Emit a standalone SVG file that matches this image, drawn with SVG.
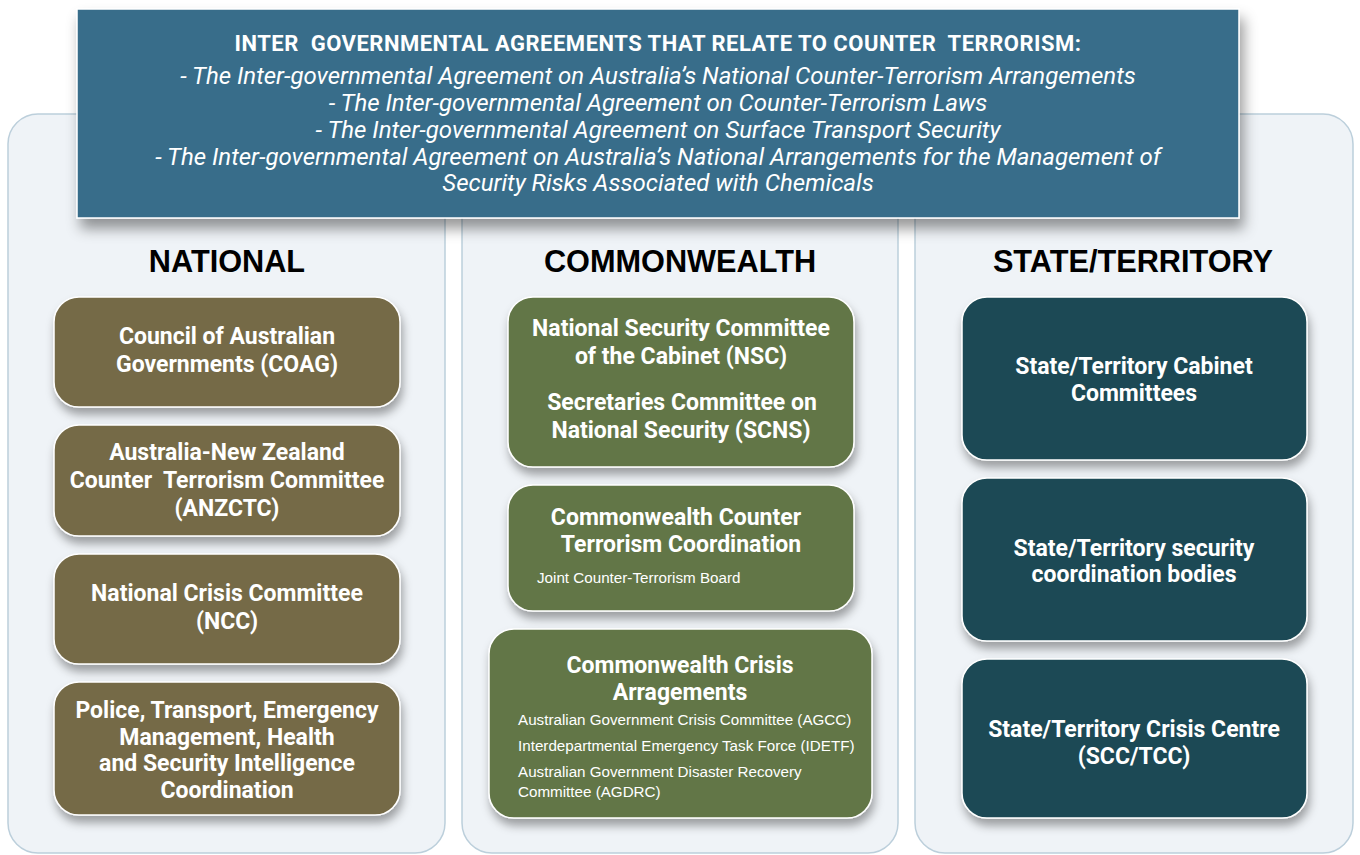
<svg xmlns="http://www.w3.org/2000/svg" width="1360" height="855" viewBox="0 0 1360 855">
<defs>
<filter id="sh" x="-10%" y="-10%" width="125%" height="140%">
<feDropShadow dx="2" dy="7" stdDeviation="5" flood-color="#000" flood-opacity="0.35"/>
</filter>
<filter id="shb" x="-5%" y="-10%" width="115%" height="140%">
<feDropShadow dx="4" dy="10" stdDeviation="7" flood-color="#000" flood-opacity="0.4"/>
</filter>
</defs>
<style>
.panel{fill:#eff3f7;stroke:#bccfdb;stroke-width:1.5}
.nat{fill:#756a47;stroke:#fff;stroke-width:1.5}
.cw{fill:#627646;stroke:#fff;stroke-width:1.5}
.st{fill:#1c4a54;stroke:#fff;stroke-width:1.5}
.t{font-family:Roboto,"Liberation Sans",sans-serif;font-weight:700;font-size:23px;fill:#fff;text-anchor:middle}
.s{font-family:"Liberation Sans",Arial,sans-serif;font-size:15.2px;fill:#fff}
.h{font-family:"Liberation Sans",Arial,sans-serif;font-weight:700;font-size:30.7px;fill:#000;text-anchor:middle}
.bt{font-family:Roboto,"Liberation Sans",sans-serif;font-weight:700;font-size:22px;letter-spacing:0.5px;fill:#fff;text-anchor:middle}
.bi{font-family:Roboto,"Liberation Sans",sans-serif;font-style:italic;font-size:24px;fill:#fff;text-anchor:middle}
</style>
<rect width="1360" height="855" fill="#fff"/>
<g id="panels">
<rect class="panel" x="8" y="114" width="437" height="739" rx="30"/>
<rect class="panel" x="462" y="114" width="436" height="739" rx="30"/>
<rect class="panel" x="915" y="114" width="438" height="739" rx="30"/>
</g>
<g id="banner">
<rect x="77" y="9" width="1162" height="209" fill="#386d8a" stroke="#fff" stroke-width="1.5" filter="url(#shb)"/>
<text class="bt" x="658" y="51" xml:space="preserve">INTER  GOVERNMENTAL AGREEMENTS THAT RELATE TO COUNTER  TERRORISM:</text>
<text class="bi" x="658" y="84">- The Inter-governmental Agreement on Australia’s National Counter-Terrorism Arrangements</text>
<text class="bi" x="658" y="111">- The Inter-governmental Agreement on Counter-Terrorism Laws</text>
<text class="bi" x="658" y="138">- The Inter-governmental Agreement on Surface Transport Security</text>
<text class="bi" x="658" y="165">- The Inter-governmental Agreement on Australia’s National Arrangements for the Management of</text>
<text class="bi" x="658" y="191">Security Risks Associated with Chemicals</text>
</g>
<g id="headers">
<text class="h" x="227" y="272">NATIONAL</text>
<text class="h" x="680" y="272">COMMONWEALTH</text>
<text class="h" x="1133" y="272">STATE/TERRITORY</text>
</g>
<g id="connectors"></g>
<g id="nat-coag">
<rect class="nat" x="54" y="297" width="346" height="110" rx="25" filter="url(#sh)"/>
<text class="t" x="227" y="344">Council of Australian</text>
<text class="t" x="227" y="372">Governments (COAG)</text>
</g>
<g id="nat-anzctc">
<rect class="nat" x="54" y="425" width="346" height="111" rx="25" filter="url(#sh)"/>
<text class="t" x="227" y="460">Australia-New Zealand</text>
<text class="t" x="227" y="488" xml:space="preserve">Counter  Terrorism Committee</text>
<text class="t" x="227" y="516">(ANZCTC)</text>
</g>
<g id="nat-ncc">
<rect class="nat" x="54" y="554" width="346" height="110" rx="25" filter="url(#sh)"/>
<text class="t" x="227" y="601">National Crisis Committee</text>
<text class="t" x="227" y="629">(NCC)</text>
</g>
<g id="nat-police">
<rect class="nat" x="54" y="682" width="346" height="133" rx="25" filter="url(#sh)"/>
<text class="t" x="227" y="718">Police, Transport, Emergency</text>
<text class="t" x="227" y="745">Management, Health</text>
<text class="t" x="227" y="771">and Security Intelligence</text>
<text class="t" x="227" y="798">Coordination</text>
</g>
<g id="cw-nsc">
<rect class="cw" x="508" y="297" width="346" height="170" rx="25" filter="url(#sh)"/>
<text class="t" x="681" y="336">National Security Committee</text>
<text class="t" x="681" y="364">of the Cabinet (NSC)</text>
<text class="t" x="682" y="410">Secretaries Committee on</text>
<text class="t" x="681" y="438">National Security (SCNS)</text>
</g>
<g id="cw-ctc">
<rect class="cw" x="508" y="485" width="346" height="126" rx="25" filter="url(#sh)"/>
<text class="t" x="676" y="525">Commonwealth Counter</text>
<text class="t" x="681" y="552">Terrorism Coordination</text>
<text class="s" x="537" y="583">Joint Counter-Terrorism Board</text>
</g>
<g id="cw-crisis">
<rect class="cw" x="489" y="629" width="383" height="189" rx="25" filter="url(#sh)"/>
<text class="t" x="680" y="673">Commonwealth Crisis</text>
<text class="t" x="680" y="700">Arragements</text>
<text class="s" x="518" y="725">Australian Government Crisis Committee (AGCC)</text>
<text class="s" x="518" y="751">Interdepartmental Emergency Task Force (IDETF)</text>
<text class="s" x="518" y="777">Australian Government Disaster Recovery</text>
<text class="s" x="518" y="797">Committee (AGDRC)</text>
</g>
<g id="st-cabinet">
<rect class="st" x="962" y="297" width="345" height="163" rx="25" filter="url(#sh)"/>
<text class="t" x="1134" y="374">State/Territory Cabinet</text>
<text class="t" x="1134" y="401">Committees</text>
</g>
<g id="st-security">
<rect class="st" x="962" y="478" width="345" height="163" rx="25" filter="url(#sh)"/>
<text class="t" x="1134" y="556">State/Territory security</text>
<text class="t" x="1134" y="582">coordination bodies</text>
</g>
<g id="st-crisis">
<rect class="st" x="962" y="659" width="345" height="159" rx="25" filter="url(#sh)"/>
<text class="t" x="1134" y="737">State/Territory Crisis Centre</text>
<text class="t" x="1134" y="764">(SCC/TCC)</text>
</g>
</svg>
